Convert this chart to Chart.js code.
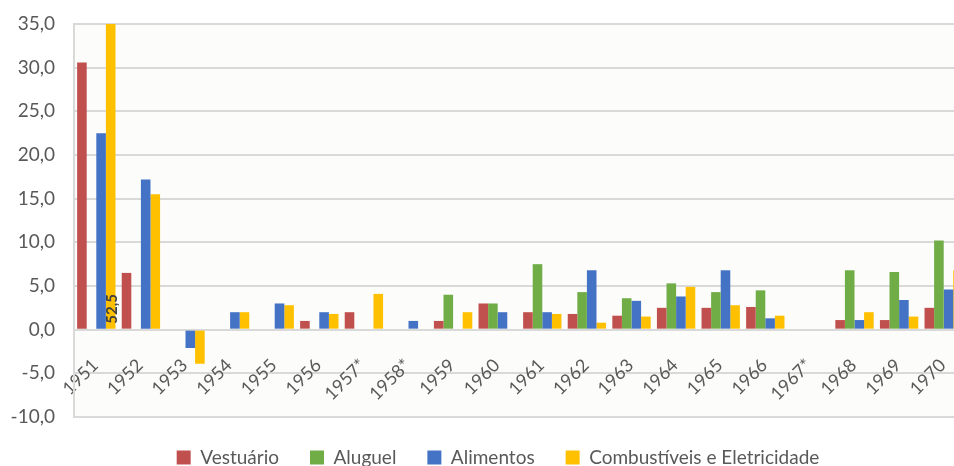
<!DOCTYPE html>
<html>
<head>
<meta charset="utf-8">
<script src="https://cdn.jsdelivr.net/npm/chart.js@4.4.0/dist/chart.umd.min.js"></script>
<style>
  html, body { margin: 0; padding: 0; overflow: hidden; background: #fff; }
</style>
</head>
<body>
<canvas id="graficoPrecos" width="996" height="466"></canvas>
<script>
    // Datos del gráfico
    var anos = ['1951', '1952', '1953', '1954', '1955', '1956', '1957*', '1958*', '1959', '1960',
                '1961', '1962', '1963', '1964', '1965', '1966', '1967*', '1968', '1969', '1970'];
    var vestuario    = [30.6, 6.5, null, null, null, 1.0, 2.0, null, 1.0, 3.0, 2.0, 1.8, 1.6, 2.5, 2.5, 2.6, null, 1.1, 1.1, 2.5];
    var aluguel      = [null, null, null, null, null, null, null, null, 4.0, 3.0, 7.5, 4.3, 3.6, 5.3, 4.3, 4.5, null, 6.8, 6.6, 10.2];
    var alimentos    = [22.5, 17.2, -2.1, 2.0, 3.0, 2.0, null, 1.0, null, 2.0, 2.0, 6.8, 3.3, 3.8, 6.8, 1.3, null, 1.1, 3.4, 4.6];
    var combustiveis = [52.5, 15.5, -3.9, 2.0, 2.8, 1.8, 4.1, null, 2.0, null, 1.8, 0.8, 1.5, 4.9, 2.8, 1.6, null, 2.0, 1.5, 6.8];

    var fonte = 'Lato, "Liberation Sans", sans-serif';
    var cinza = '#595959';

    function serie(nome, valores, cor) {
        return {
            label: nome,
            data: valores,
            backgroundColor: cor,
            borderWidth: 0,
            categoryPercentage: 0.86,
            barPercentage: 1.0
        };
    }

    // fondo del área de trazado
    var fundoArea = {
        id: 'fundoArea',
        beforeDraw: function (chart) {
            var a = chart.chartArea;
            chart.ctx.save();
            chart.ctx.fillStyle = '#FCFCFA';
            chart.ctx.fillRect(a.left, a.top, a.right - a.left, a.bottom - a.top);
            chart.ctx.restore();
        }
    };

    // etiqueta del valor recortado (1951, combustíveis)
    var rotuloValor = {
        id: 'rotuloValor',
        afterDatasetsDraw: function (chart) {
            var barra = chart.getDatasetMeta(3).data[0];
            var ctx = chart.ctx;
            ctx.save();
            ctx.translate(barra.x + 1, barra.base - 5);
            ctx.rotate(-Math.PI / 2);
            ctx.font = 'bold 15px ' + fonte;
            ctx.fillStyle = '#404040';
            ctx.textAlign = 'left';
            ctx.textBaseline = 'middle';
            ctx.fillText(combustiveis[0].toFixed(1).replace('.', ','), 0, 0);
            ctx.restore();
        }
    };

    var ctx = document.getElementById('graficoPrecos').getContext('2d');

    var graficoPrecos = new Chart(ctx, {
        type: 'bar',
        data: {
            labels: anos,
            datasets: [
                serie('Vestuário', vestuario, '#C0504D'),
                serie('Aluguel', aluguel, '#70AD47'),
                serie('Alimentos', alimentos, '#4472C4'),
                serie('Combustíveis e Eletricidade', combustiveis, '#FFC000')
            ]
        },
        options: {
            responsive: false,
            animation: false,
            layout: { padding: { left: 0, right: 0, top: 24, bottom: -11 } },
            scales: {
                x: {
                    position: { y: 0 },
                    grid: { display: false },
                    border: { display: false },
                    afterFit: function (s) { s.paddingLeft = 0; s.paddingRight = 30; },
                    ticks: {
                        minRotation: 45,
                        maxRotation: 45,
                        autoSkip: false,
                        labelOffset: -1,
                        padding: 17,
                        color: cinza,
                        font: { family: fonte, size: 18 }
                    }
                },
                y: {
                    min: -10,
                    max: 35,
                    afterFit: function (s) { s.width = 74; s.paddingTop = 0; s.paddingBottom = 0; },
                    ticks: {
                        stepSize: 5,
                        padding: 19,
                        color: cinza,
                        font: { family: fonte, size: 19 },
                        callback: function (v) { return v.toFixed(1).replace('.', ','); }
                    },
                    grid: { color: '#D9D9D9', lineWidth: 2, drawTicks: false },
                    border: { display: true, color: '#D9D9D9', width: 2 }
                }
            },
            plugins: {
                legend: {
                    position: 'bottom',
                    labels: {
                        boxWidth: 14,
                        boxHeight: 14,
                        padding: 31,
                        color: cinza,
                        font: { family: fonte, size: 19 }
                    }
                },
                tooltip: { enabled: false }
            }
        },
        plugins: [fundoArea, rotuloValor]
    });
</script>
</body>
</html>
